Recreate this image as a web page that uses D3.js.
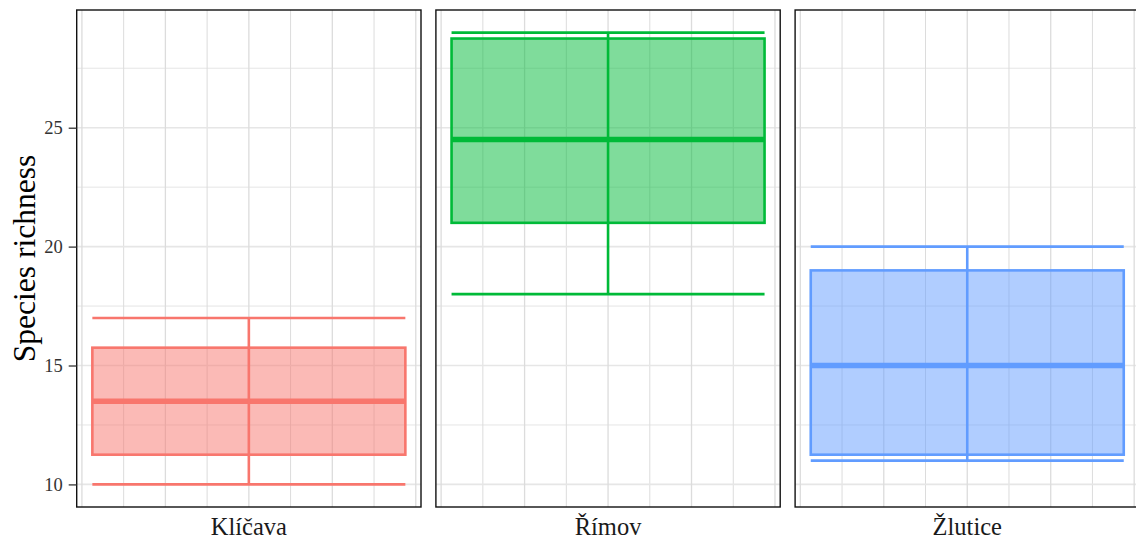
<!DOCTYPE html>
<html>
<head>
<meta charset="utf-8">
<script src="https://cdn.jsdelivr.net/npm/d3@7"></script>
<style>
  html, body { margin: 0; padding: 0; background: #fff; }
  svg { display: block; }
  svg text { font-family: "Liberation Serif", "DejaVu Serif", serif !important; }
</style>
</head>
<body>
<svg id="chart" width="1136" height="539"></svg>
<script>
// Species richness per reservoir: five-number summaries
const sites       = ["Klíčava", "Římov", "Žlutice"];
const whiskerLow  = [10, 18, 11];
const quart1      = [11.25, 21, 11.25];
const medians     = [13.5, 24.5, 15];
const quart3      = [15.75, 28.75, 19];
const whiskerHigh = [17, 29, 20];
const colours     = ["#F8766D", "#00BA38", "#619CFF"];

const yTicks      = [10, 15, 20, 25];
const yMinorTicks = [12.5, 17.5, 22.5, 27.5];
const xTicks      = [0.6, 0.8, 1.0, 1.2, 1.4];
const xMinorTicks = [0.7, 0.9, 1.1, 1.3];

const SERIF = "'Liberation Serif', 'DejaVu Serif', serif";
const panelTop = 10, panelBottom = 507;
const panelLeft0 = 76.7, panelW = 344.3, panelGap = 14.9;

const svg = d3.select("#chart");

// shared y scale, 5% padding around the whisker range
const yMin = d3.min(whiskerLow), yMax = d3.max(whiskerHigh);
const yPad = (yMax - yMin) * 0.05;
const y = d3.scaleLinear()
  .domain([yMin - yPad, yMax + yPad])
  .range([panelBottom, panelTop]);

// each panel has the box centred at x = 1, width 0.75
const boxHalf = 0.375;
const xPad = 2 * boxHalf * 0.05;

sites.forEach((site, i) => {
  const left = panelLeft0 + i * (panelW + panelGap);
  const x = d3.scaleLinear()
    .domain([1 - boxHalf - xPad, 1 + boxHalf + xPad])
    .range([left, left + panelW]);

  const g = svg.append("g");
  const clipId = "clip" + i;
  svg.append("clipPath").attr("id", clipId)
    .append("rect").attr("x", left).attr("y", panelTop)
    .attr("width", panelW).attr("height", panelBottom - panelTop);

  const inner = g.append("g").attr("clip-path", `url(#${clipId})`);

  // grid
  inner.selectAll(".gy-minor").data(yMinorTicks).join("line")
    .attr("x1", left).attr("x2", left + panelW)
    .attr("y1", d => y(d)).attr("y2", d => y(d))
    .attr("stroke", "#e2e2e2").attr("stroke-width", 0.9);
  inner.selectAll(".gx-minor").data(xMinorTicks).join("line")
    .attr("y1", panelTop).attr("y2", panelBottom)
    .attr("x1", d => x(d)).attr("x2", d => x(d))
    .attr("stroke", "#dcdcdc").attr("stroke-width", 1);
  inner.selectAll(".gy-major").data(yTicks).join("line")
    .attr("x1", left).attr("x2", left + panelW)
    .attr("y1", d => y(d)).attr("y2", d => y(d))
    .attr("stroke", "#e6e6e6").attr("stroke-width", 1.6);
  inner.selectAll(".gx-major").data(xTicks).join("line")
    .attr("y1", panelTop).attr("y2", panelBottom)
    .attr("x1", d => x(d)).attr("x2", d => x(d))
    .attr("stroke", "#dcdcdc").attr("stroke-width", 1.3);

  const c = colours[i];
  const x0 = x(1 - boxHalf), x1 = x(1 + boxHalf), xc = x(1);

  // box
  inner.append("rect")
    .attr("x", x0).attr("y", y(quart3[i]))
    .attr("width", x1 - x0).attr("height", y(quart1[i]) - y(quart3[i]))
    .attr("fill", c).attr("fill-opacity", 0.5)
    .attr("stroke", c).attr("stroke-width", 2.6);

  // median
  inner.append("line")
    .attr("x1", x0).attr("x2", x1)
    .attr("y1", y(medians[i])).attr("y2", y(medians[i]))
    .attr("stroke", c).attr("stroke-width", 5.5);

  // whisker ends
  [whiskerLow[i], whiskerHigh[i]].forEach(v => {
    inner.append("line")
      .attr("x1", x0).attr("x2", x1)
      .attr("y1", y(v)).attr("y2", y(v))
      .attr("stroke", c).attr("stroke-width", 2.6);
  });

  // vertical whisker line
  inner.append("line")
    .attr("x1", xc).attr("x2", xc)
    .attr("y1", y(whiskerLow[i])).attr("y2", y(whiskerHigh[i]))
    .attr("stroke", c).attr("stroke-width", 2.6);

  // panel border
  g.append("rect")
    .attr("x", left).attr("y", panelTop)
    .attr("width", panelW).attr("height", panelBottom - panelTop)
    .attr("fill", "none").attr("stroke", "#111").attr("stroke-width", 1.4);

  // site label below panel
  g.append("text")
    .attr("x", xc).attr("y", 535)
    .attr("text-anchor", "middle")
    .style("font-family", SERIF)
    .attr("font-size", 24.5).attr("fill", "#1a1a1a")
    .text(site);

  if (i === 0) {
    const axis = d3.axisLeft(y).tickValues(yTicks).tickSize(8).tickPadding(6);
    const ag = svg.append("g").attr("transform", `translate(${left},0)`).call(axis);
    ag.attr("font-family", SERIF);
    ag.select(".domain").remove();
    ag.selectAll(".tick line").attr("stroke", "#333").attr("stroke-width", 1.3);
    ag.selectAll(".tick text")
      .style("font-family", SERIF)
      .attr("font-size", 18.5).attr("fill", "#333");
  }
});

// y-axis title
svg.append("text")
  .attr("transform", `translate(35,${(panelTop + panelBottom) / 2}) rotate(-90)`)
  .attr("text-anchor", "middle")
  .style("font-family", SERIF)
  .attr("font-size", 31.5).attr("fill", "#000")
  .text("Species richness");
</script>
</body>
</html>
